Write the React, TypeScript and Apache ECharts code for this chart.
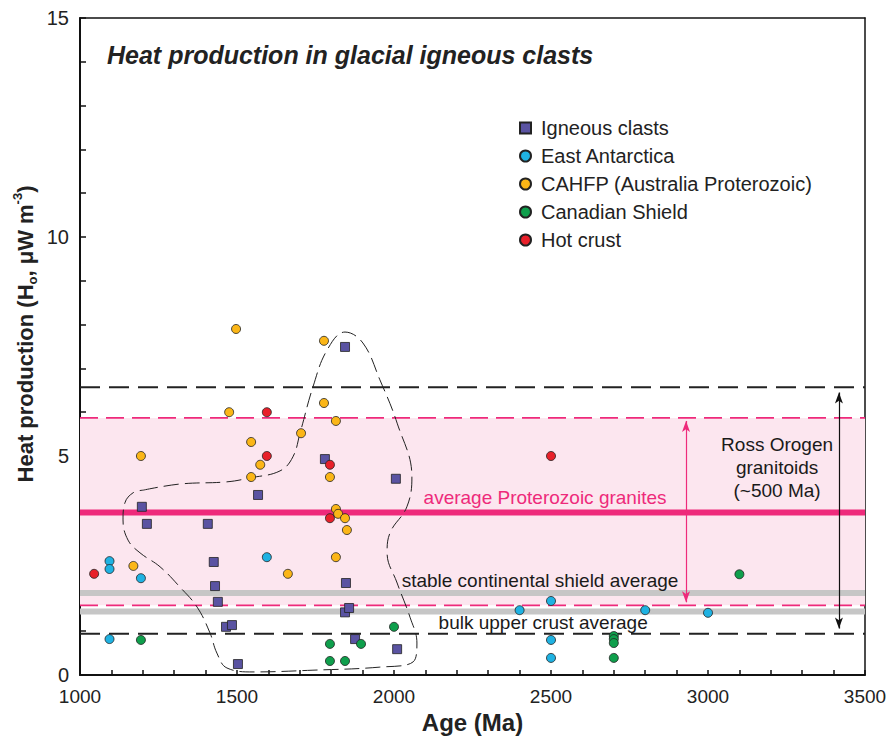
import React, { useEffect, useRef } from "react";
import * as echarts from "echarts";

// ---- data (Age Ma, Heat production µW m^-3) ----
const igneousClasts = [
  [1197, 3.84], [1213, 3.45], [1407, 3.45], [1426, 2.58], [1430, 2.03], [1439, 1.67],
  [1465, 1.1], [1484, 1.14], [1503, 0.25], [1567, 4.11], [1780, 4.93], [1844, 7.49],
  [1847, 2.1], [1844, 1.43], [1857, 1.53], [1876, 0.82], [2006, 4.48], [2010, 0.59],
];
const eastAntarctica = [
  [1094, 2.6], [1094, 2.42], [1194, 2.21], [1094, 0.82], [1595, 2.69], [2400, 1.48],
  [2500, 1.69], [2500, 0.8], [2500, 0.39], [2800, 1.48], [3000, 1.42],
];
const cahfp = [
  [1497, 7.9], [1475, 6.0], [1704, 5.52], [1545, 5.32], [1194, 5.0], [1574, 4.8],
  [1545, 4.52], [1170, 2.49], [1662, 2.31], [1777, 7.63], [1777, 6.21], [1815, 5.8],
  [1796, 4.52], [1815, 3.79], [1822, 3.68], [1844, 3.58], [1850, 3.31], [1815, 2.69],
];
const canadianShield = [
  [1194, 0.8], [1796, 0.71], [1895, 0.71], [1796, 0.32], [1844, 0.32], [2000, 1.1],
  [2700, 0.89], [2700, 0.82], [2700, 0.73], [2700, 0.39], [3100, 2.3],
];
const hotCrust = [
  [1045, 2.31], [1595, 6.0], [1595, 5.0], [1796, 4.8], [1796, 3.58], [2500, 5.0],
];

// reference levels
const rossRange = [0.94, 6.57];
const proterozoicRange = [1.59, 5.87];
const proterozoicAverage = 3.71;
const shieldAverage = 1.87;
const bulkCrustAverage = 1.45;
const proterozoicArrow = [2930, 5.8, 1.66];
const rossArrow = [3417, 6.45, 1.06];

// outline of the igneous clast cluster
const clusterOutline = [
  [1201, 4.22], [1318, 4.36], [1468, 4.41], [1541, 4.5], [1637, 4.66], [1678, 4.98],
  [1701, 5.53], [1742, 6.58], [1787, 7.42], [1844, 7.83], [1901, 7.58], [1955, 6.74],
  [2010, 5.75], [2057, 4.52], [2041, 3.84], [1987, 3.24], [1978, 2.79], [2010, 2.1],
  [2051, 1.32], [2073, 0.73], [2061, 0.3], [1955, 0.18], [1742, 0.11], [1551, 0.07],
  [1468, 0.16], [1436, 0.5], [1414, 0.96], [1373, 1.55], [1318, 2.01], [1255, 2.47],
  [1191, 2.79], [1153, 3.08], [1137, 3.54], [1143, 3.93], [1169, 4.16], [1201, 4.22],
];

const X_MIN = 1000;
const X_MAX = 3500;
const FONT = "'Liberation Sans', Arial, Helvetica, sans-serif";

function hLine(y: number, color: string, width: number, type: any, z = 2) {
  return {
    type: "line",
    data: [[X_MIN, y], [X_MAX, y]],
    symbol: "none",
    silent: true,
    z,
    lineStyle: { color, width, type },
  };
}

export default function App() {
  const ref = useRef<HTMLDivElement>(null);
  useEffect(() => {
    document.body.style.margin = "0";
    const chart = echarts.init(ref.current!, undefined, { renderer: "svg" });
    const pointStyle = (color: string) => ({ color, borderColor: "#222", borderWidth: 0.8, opacity: 1 });
    chart.setOption({
      animation: false,
      textStyle: { fontFamily: FONT },
      grid: { left: 80, right: 28, top: 18, bottom: 67 },
      xAxis: [
        {
          type: "value",
          min: X_MIN,
          max: X_MAX,
          interval: 500,
          splitLine: { show: false },
          axisLine: { lineStyle: { color: "#111", width: 2 } },
          axisTick: { inside: true, length: 5, lineStyle: { color: "#111", width: 1.5 } },
          minorTick: { show: true, splitNumber: 5, length: 5, lineStyle: { color: "#111", width: 1.5 } },
          axisLabel: { color: "#222", fontSize: 19, margin: 12, fontFamily: FONT, formatter: (v: number) => String(v) },
          name: "Age (Ma)",
          nameLocation: "middle",
          nameGap: 35,
          nameTextStyle: { fontSize: 24, fontWeight: "bold", color: "#222", fontFamily: FONT },
        },
        {
          type: "value",
          position: "top",
          min: X_MIN,
          max: X_MAX,
          axisLine: { show: true, onZero: false, lineStyle: { color: "#111", width: 1.5 } },
          axisTick: { show: false },
          axisLabel: { show: false },
          splitLine: { show: false },
        },
      ],
      yAxis: [
        {
          type: "value",
          min: 0,
          max: 15,
          interval: 5,
          splitLine: { show: false },
          axisLine: { show: true, lineStyle: { color: "#111", width: 2 } },
          axisTick: { inside: true, length: 6, lineStyle: { color: "#111", width: 1.5 } },
          minorTick: { show: true, splitNumber: 5, length: 6, lineStyle: { color: "#111", width: 1.5 } },
          axisLabel: { color: "#222", fontSize: 20, margin: 11, fontFamily: FONT },
        },
        {
          type: "value",
          position: "right",
          min: 0,
          max: 15,
          axisLine: { show: true, onZero: false, lineStyle: { color: "#111", width: 1.5 } },
          axisTick: { show: false },
          axisLabel: { show: false },
          splitLine: { show: false },
        },
      ],
      legend: {
        orient: "vertical",
        left: 514,
        top: 113,
        itemWidth: 11,
        itemHeight: 11,
        itemGap: 8,
        selectedMode: false,
        textStyle: { fontSize: 20, color: "#222", fontFamily: FONT, padding: [0, 0, 0, 5] },
        data: [
          { name: "Igneous clasts", icon: "rect" },
          { name: "East Antarctica", icon: "circle" },
          { name: "CAHFP (Australia Proterozoic)", icon: "circle" },
          { name: "Canadian Shield", icon: "circle" },
          { name: "Hot crust", icon: "circle" },
        ],
      },
      graphic: [
        {
          type: "text",
          left: 107,
          top: 42,
          style: {
            text: "Heat production in glacial igneous clasts",
            font: `italic bold 25px ${FONT}`,
            fill: "#222",
          },
        },
        {
          type: "text",
          x: 25,
          y: 334,
          rotation: Math.PI / 2,
          style: {
            text: "{b|Heat production (H}{sub|o}{b|, μW m}{sup|-3}{b|)}",
            align: "center",
            verticalAlign: "middle",
            rich: {
              b: { fontSize: 22, fontWeight: "bold", fontFamily: FONT, fill: "#222", lineHeight: 28, verticalAlign: "middle" },
              sub: { fontSize: 13, fontWeight: "bold", fontFamily: FONT, fill: "#222", lineHeight: 28, verticalAlign: "bottom" },
              sup: { fontSize: 13, fontWeight: "bold", fontFamily: FONT, fill: "#222", lineHeight: 28, verticalAlign: "top" },
            },
          },
        },
      ],
      series: [
        {
          type: "line",
          data: [[X_MIN, proterozoicAverage], [X_MAX, proterozoicAverage]],
          symbol: "none",
          silent: true,
          z: 1,
          lineStyle: { width: 0 },
          markArea: {
            silent: true,
            itemStyle: { color: "#fce6ef" },
            data: [[{ yAxis: proterozoicRange[0] }, { yAxis: proterozoicRange[1] }]],
          },
        },
        hLine(shieldAverage, "#c6c6c6", 6, "solid"),
        hLine(bulkCrustAverage, "#c6c6c6", 6, "solid"),
        hLine(proterozoicAverage, "#ee2a7b", 6, "solid"),
        hLine(proterozoicRange[0], "#ee2a7b", 1.6, [18, 8]),
        hLine(proterozoicRange[1], "#ee2a7b", 1.6, [18, 8]),
        hLine(rossRange[0], "#222", 2, [20, 9]),
        hLine(rossRange[1], "#222", 2, [20, 9]),
        {
          type: "line",
          data: [],
          silent: true,
          markLine: {
            silent: true,
            symbol: ["arrow", "arrow"],
            symbolSize: [6, 11],
            label: { show: false },
            data: [
              [
                { coord: [proterozoicArrow[0], proterozoicArrow[1]], lineStyle: { color: "#ee2a7b", width: 1.2, type: "solid" }, itemStyle: { color: "#ee2a7b" } },
                { coord: [proterozoicArrow[0], proterozoicArrow[2]] },
              ],
              [
                { coord: [rossArrow[0], rossArrow[1]], lineStyle: { color: "#111", width: 1.2, type: "solid" }, itemStyle: { color: "#111" } },
                { coord: [rossArrow[0], rossArrow[2]] },
              ],
            ],
          },
        },
        {
          type: "line",
          data: clusterOutline,
          symbol: "none",
          smooth: 0.4,
          silent: true,
          z: 3,
          lineStyle: { color: "#222", width: 1, type: [15, 6] },
        },
        {
          type: "scatter",
          silent: true,
          symbolSize: 0,
          z: 4,
          itemStyle: { opacity: 1 },
          data: [
            { name: "average Proterozoic granites", value: [2481, 4.06], label: { color: "#ee2a7b" } },
            { name: "stable continental shield average", value: [2465, 2.15] },
            { name: "bulk upper crust average", value: [2475, 1.19] },
            { name: "Ross Orogen\ngranitoids\n(~500 Ma)", value: [3220, 4.73] },
          ],
          label: {
            show: true,
            position: "inside",
            formatter: (p: any) => p.name,
            fontSize: 19,
            lineHeight: 23,
            color: "#1a1a1a",
            textBorderWidth: 0,
            fontFamily: FONT,
          },
        },
        { name: "Igneous clasts", type: "scatter", symbol: "rect", symbolSize: 9, z: 5, data: igneousClasts, itemStyle: pointStyle("#5a53a2") },
        { name: "East Antarctica", type: "scatter", symbol: "circle", symbolSize: 9, z: 5, data: eastAntarctica, itemStyle: pointStyle("#1fb2e2") },
        { name: "CAHFP (Australia Proterozoic)", type: "scatter", symbol: "circle", symbolSize: 9, z: 5, data: cahfp, itemStyle: pointStyle("#fbb617") },
        { name: "Canadian Shield", type: "scatter", symbol: "circle", symbolSize: 9, z: 5, data: canadianShield, itemStyle: pointStyle("#0f9f4c") },
        { name: "Hot crust", type: "scatter", symbol: "circle", symbolSize: 9, z: 5, data: hotCrust, itemStyle: pointStyle("#e8202a") },
      ],
    });
    return () => chart.dispose();
  }, []);
  return <div ref={ref} style={{ width: 893, height: 742 }} />;
}
